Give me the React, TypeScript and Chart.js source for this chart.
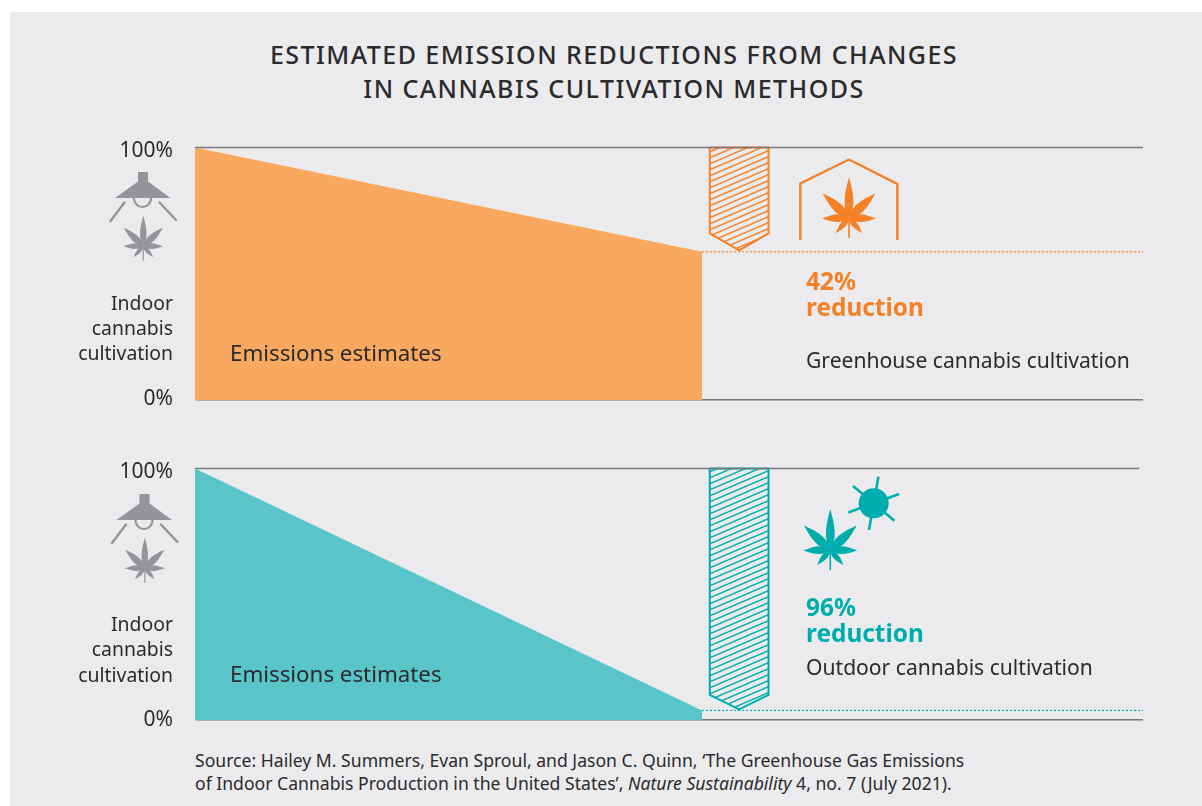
import React, { useEffect, useRef } from "react";
import { Chart, registerables } from "chart.js";

Chart.register(...registerables);

const FONT = '"Noto Sans", sans-serif';
const INK = "#2b2a2c";
const PANEL = "#ebebee";
const ORANGE = "#f58026";
const ORANGE_FILL = "#f9a95f";
const TEAL = "#00adad";
const TEAL_FILL = "#5ac5c8";
const GREY = "#939598";
const RULE = "#77787b";

const titleLines = ["ESTIMATED EMISSION REDUCTIONS FROM CHANGES", "IN CANNABIS CULTIVATION METHODS"];
const yTicks = [0, 100];

const areaX = [0, 53.5];
const greenhouseArea = [100, 58.7];
const outdoorArea = [100, 3.8];

const ruleX = [0, 100];
const outdoorRuleX = [0, 99.6];
const ruleY = [100, 100];

const dottedX = [53.5, 100];
const greenhouseDotted = [58.7, 58.7];
const outdoorDotted = [3.8, 3.8];

const hatchX = [54.3, 60.5, 60.5, 57.4, 54.3, 54.3];
const greenhouseHatch = [100, 100, 66, 59.3, 66, 100];
const outdoorHatch = [100, 100, 10, 4.2, 10, 100];

const zip = (xs: number[], ys: number[]) => xs.map((x, i) => ({ x, y: ys[i] }));

function hatchPattern(color: string) {
  const c = document.createElement("canvas");
  c.width = 14;
  c.height = 6;
  const g = c.getContext("2d")!;
  g.strokeStyle = color;
  g.lineWidth = 1.5;
  for (const off of [-6, 0, 6]) {
    g.beginPath();
    g.moveTo(0, 6 + off);
    g.lineTo(14, off);
    g.stroke();
  }
  return g.createPattern(c, "repeat")!;
}

function leaflet(g: CanvasRenderingContext2D, angleDeg: number, len: number, width: number) {
  g.save();
  g.rotate((angleDeg * Math.PI) / 180);
  g.beginPath();
  g.moveTo(0, 0);
  g.bezierCurveTo(-width * 0.9, -len * 0.3, -width * 0.45, -len * 0.65, 0, -len);
  g.bezierCurveTo(width * 0.45, -len * 0.65, width * 0.9, -len * 0.3, 0, 0);
  g.fill();
  g.restore();
}

function leaf(g: CanvasRenderingContext2D, cx: number, cy: number, s: number, color: string) {
  g.save();
  g.translate(cx, cy);
  g.scale(s, s);
  g.fillStyle = color;
  leaflet(g, 0, 41, 8.5);
  leaflet(g, 47, 36, 9);
  leaflet(g, -47, 36, 9);
  leaflet(g, 91, 27, 7.5);
  leaflet(g, -91, 27, 7.5);
  leaflet(g, 139, 20, 5.5);
  leaflet(g, -139, 20, 5.5);
  g.strokeStyle = color;
  g.lineWidth = 1.6;
  g.beginPath();
  g.moveTo(0, 0);
  g.lineTo(0, 20);
  g.stroke();
  g.restore();
}

function lamp(g: CanvasRenderingContext2D, dx: number, dy: number) {
  g.save();
  g.translate(dx, dy);
  g.fillStyle = GREY;
  g.strokeStyle = GREY;
  g.fillRect(138, 172, 10, 10);
  g.beginPath();
  g.moveTo(138, 181.5);
  g.lineTo(148, 181.5);
  g.lineTo(170.5, 198);
  g.lineTo(115, 198);
  g.closePath();
  g.fill();
  g.lineWidth = 2.2;
  g.lineCap = "round";
  g.beginPath();
  g.arc(142.5, 198.5, 8.5, 0, Math.PI);
  g.stroke();
  g.lineWidth = 2.4;
  g.beginPath();
  g.moveTo(124.5, 202.5);
  g.lineTo(110.5, 221);
  g.moveTo(159.5, 202.5);
  g.lineTo(176, 220);
  g.stroke();
  g.restore();
  leaf(g, 143.3 + dx, 246 + dy, 0.74, GREY);
}

function greenhouseIcon(g: CanvasRenderingContext2D) {
  g.strokeStyle = ORANGE;
  g.lineWidth = 2.4;
  g.lineJoin = "miter";
  g.beginPath();
  g.moveTo(800.3, 240);
  g.lineTo(800.3, 183.5);
  g.lineTo(849, 159.5);
  g.lineTo(897.3, 184);
  g.lineTo(897.3, 240);
  g.stroke();
  leaf(g, 849, 218, 1, ORANGE);
}

function outdoorIcon(g: CanvasRenderingContext2D) {
  const cx = 873.7;
  const cy = 503.3;
  g.fillStyle = TEAL;
  g.strokeStyle = TEAL;
  g.beginPath();
  g.arc(cx, cy, 15, 0, Math.PI * 2);
  g.fill();
  g.lineWidth = 2.6;
  for (let a = -80; a < 280; a += 60) {
    const r = (a * Math.PI) / 180;
    g.beginPath();
    g.moveTo(cx + Math.cos(r) * 14, cy + Math.sin(r) * 14);
    g.lineTo(cx + Math.cos(r) * 27, cy + Math.sin(r) * 27);
    g.stroke();
  }
  leaf(g, 830.3, 550, 1, TEAL);
}

type PanelProps = {
  top: number;
  height: number;
  plotTop: number;
  plotBottom: number;
  area: number[];
  dotted: number[];
  hatch: number[];
  topRuleX: number[];
  fill: string;
  accent: string;
  tickShift: [number, number];
  draw: (g: CanvasRenderingContext2D) => void;
};

function Panel(p: PanelProps) {
  const ref = useRef<HTMLCanvasElement>(null);
  useEffect(() => {
    const chart = new Chart(ref.current!, {
      type: "scatter",
      data: {
        datasets: [
          {
            label: "Top rule",
            data: zip(p.topRuleX, ruleY),
            showLine: true,
            borderColor: RULE,
            borderWidth: 1.5,
            pointRadius: 0,
            clip: false,
            order: 1,
          },
          {
            label: "Emissions estimates",
            data: zip(areaX, p.area),
            showLine: true,
            fill: "origin",
            backgroundColor: p.fill,
            borderWidth: 0,
            pointRadius: 0,
            order: 4,
          },
          {
            label: "Remaining level",
            data: zip(dottedX, p.dotted),
            showLine: true,
            borderColor: p.accent,
            borderWidth: 1.2,
            borderDash: [2, 2],
            pointRadius: 0,
            order: 3,
          },
          {
            label: "Reduction",
            data: zip(hatchX, p.hatch),
            showLine: true,
            fill: "shape",
            backgroundColor: hatchPattern(p.accent),
            borderColor: p.accent,
            borderWidth: 2,
            borderJoinStyle: "miter",
            pointRadius: 0,
            clip: false,
            order: 2,
          },
        ],
      },
      options: {
        animation: false,
        responsive: false,
        maintainAspectRatio: false,
        layout: {
          padding: { top: p.plotTop - p.top, bottom: p.top + p.height - p.plotBottom, left: 0, right: 59 },
        },
        plugins: { legend: { display: false }, tooltip: { enabled: false } },
        scales: {
          x: { type: "linear", display: false, min: 0, max: 100 },
          y: {
            min: 0,
            max: 100,
            afterFit: (s: any) => {
              s.width = 195;
              s.paddingTop = 0;
              s.paddingBottom = 0;
            },
            afterBuildTicks: (s: any) => {
              s.ticks = yTicks.map((value) => ({ value }));
            },
            afterUpdate: (s: any) => {
              const orig = s.getLabelItems.bind(s);
              s.getLabelItems = (ca: any) =>
                orig(ca).map((it: any) => ({
                  ...it,
                  options: {
                    ...it.options,
                    translation: [
                      it.options.translation[0],
                      it.options.translation[1] + (it.label === "100%" ? p.tickShift[0] : p.tickShift[1]),
                    ],
                  },
                }));
            },
            grid: {
              drawTicks: false,
              lineWidth: (c: any) => (c.tick && c.tick.value === 0 ? 1.5 : 0),
              color: RULE,
            },
            border: { display: true, color: "#b5b6b8", width: 1 },
            ticks: {
              padding: 22,
              color: INK,
              font: { family: FONT, size: 21 },
              callback: (v: any) => `${v}%`,
            },
          },
        },
      },
      plugins: [
        {
          id: "icons",
          afterDraw(c: Chart) {
            const g = c.ctx;
            g.save();
            g.translate(0, -p.top);
            p.draw(g);
            g.restore();
          },
        },
      ],
    } as any);
    return () => chart.destroy();
  }, []);
  return (
    <canvas
      ref={ref}
      width={1202}
      height={p.height}
      style={{ position: "absolute", left: 0, top: p.top, width: 1202, height: p.height, display: "block" }}
    />
  );
}

function Label(props: {
  x: number;
  y: number;
  size: number;
  right?: boolean;
  bold?: boolean;
  color?: string;
  spacing?: number;
  children: React.ReactNode;
}) {
  const { x, y, size, right, bold, color, spacing, children } = props;
  return (
    <div
      style={{
        position: "absolute",
        top: y - 20,
        height: 40,
        lineHeight: "40px",
        whiteSpace: "nowrap",
        fontFamily: FONT,
        fontSize: size,
        fontWeight: bold ? 700 : 400,
        color: color || INK,
        letterSpacing: spacing || 0,
        ...(right ? { right: 1202 - x } : { left: x }),
      }}
    >
      {children}
    </div>
  );
}

export default function App() {
  useEffect(() => {
    document.body.style.margin = "0";
    document.body.style.background = "#fff";
  }, []);
  return (
    <div style={{ position: "relative", width: 1202, height: 806, overflow: "hidden", background: "#fff" }}>
      <div style={{ position: "absolute", left: 10, top: 12, right: 0, bottom: 0, background: PANEL }} />
      {titleLines.map((t, i) => (
        <div
          key={t}
          style={{
            position: "absolute",
            left: 14,
            width: 1200,
            textAlign: "center",
            top: 34 + i * 34,
            height: 40,
            lineHeight: "40px",
            fontFamily: FONT,
            fontSize: 25,
            fontWeight: 500,
            color: INK,
            letterSpacing: 1.45,
            whiteSpace: "nowrap",
          }}
        >
          {t}
        </div>
      ))}
      <Panel
        top={120}
        height={300}
        plotTop={147.5}
        plotBottom={400}
        area={greenhouseArea}
        dotted={greenhouseDotted}
        hatch={greenhouseHatch}
        topRuleX={ruleX}
        fill={ORANGE_FILL}
        accent={ORANGE}
        tickShift={[4, -1]}
        draw={(g) => {
          lamp(g, 0, 0);
          greenhouseIcon(g);
        }}
      />
      <Panel
        top={440}
        height={300}
        plotTop={468.5}
        plotBottom={720}
        area={outdoorArea}
        dotted={outdoorDotted}
        hatch={outdoorHatch}
        topRuleX={outdoorRuleX}
        fill={TEAL_FILL}
        accent={TEAL}
        tickShift={[4, 0]}
        draw={(g) => {
          lamp(g, 1.5, 322);
          outdoorIcon(g);
        }}
      />
      <Label x={173} y={303} size={19.4} right>Indoor</Label>
      <Label x={173} y={328} size={19.4} right>cannabis</Label>
      <Label x={173} y={353} size={19.4} right>cultivation</Label>
      <Label x={173} y={624} size={19.4} right>Indoor</Label>
      <Label x={173} y={649} size={19.4} right>cannabis</Label>
      <Label x={173} y={675} size={19.4} right>cultivation</Label>
      <Label x={230} y={353} size={22.3}>Emissions estimates</Label>
      <Label x={230} y={674} size={22.3}>Emissions estimates</Label>
      <Label x={806} y={281} size={24.4} bold color={ORANGE}>42%</Label>
      <Label x={806} y={307} size={24.4} bold color={ORANGE}>reduction</Label>
      <Label x={806} y={360} size={21.1}>Greenhouse cannabis cultivation</Label>
      <Label x={806} y={607} size={24.4} bold color={TEAL}>96%</Label>
      <Label x={806} y={633} size={24.4} bold color={TEAL}>reduction</Label>
      <Label x={806} y={667} size={21.1}>Outdoor cannabis cultivation</Label>
      <Label x={195} y={760} size={17.6}>
        Source: Hailey M. Summers, Evan Sproul, and Jason C. Quinn, ‘The Greenhouse Gas Emissions
      </Label>
      <Label x={195} y={783} size={17.6}>
        of Indoor Cannabis Production in the United States’, <i>Nature Sustainability</i> 4, no. 7 (July 2021).
      </Label>
    </div>
  );
}
